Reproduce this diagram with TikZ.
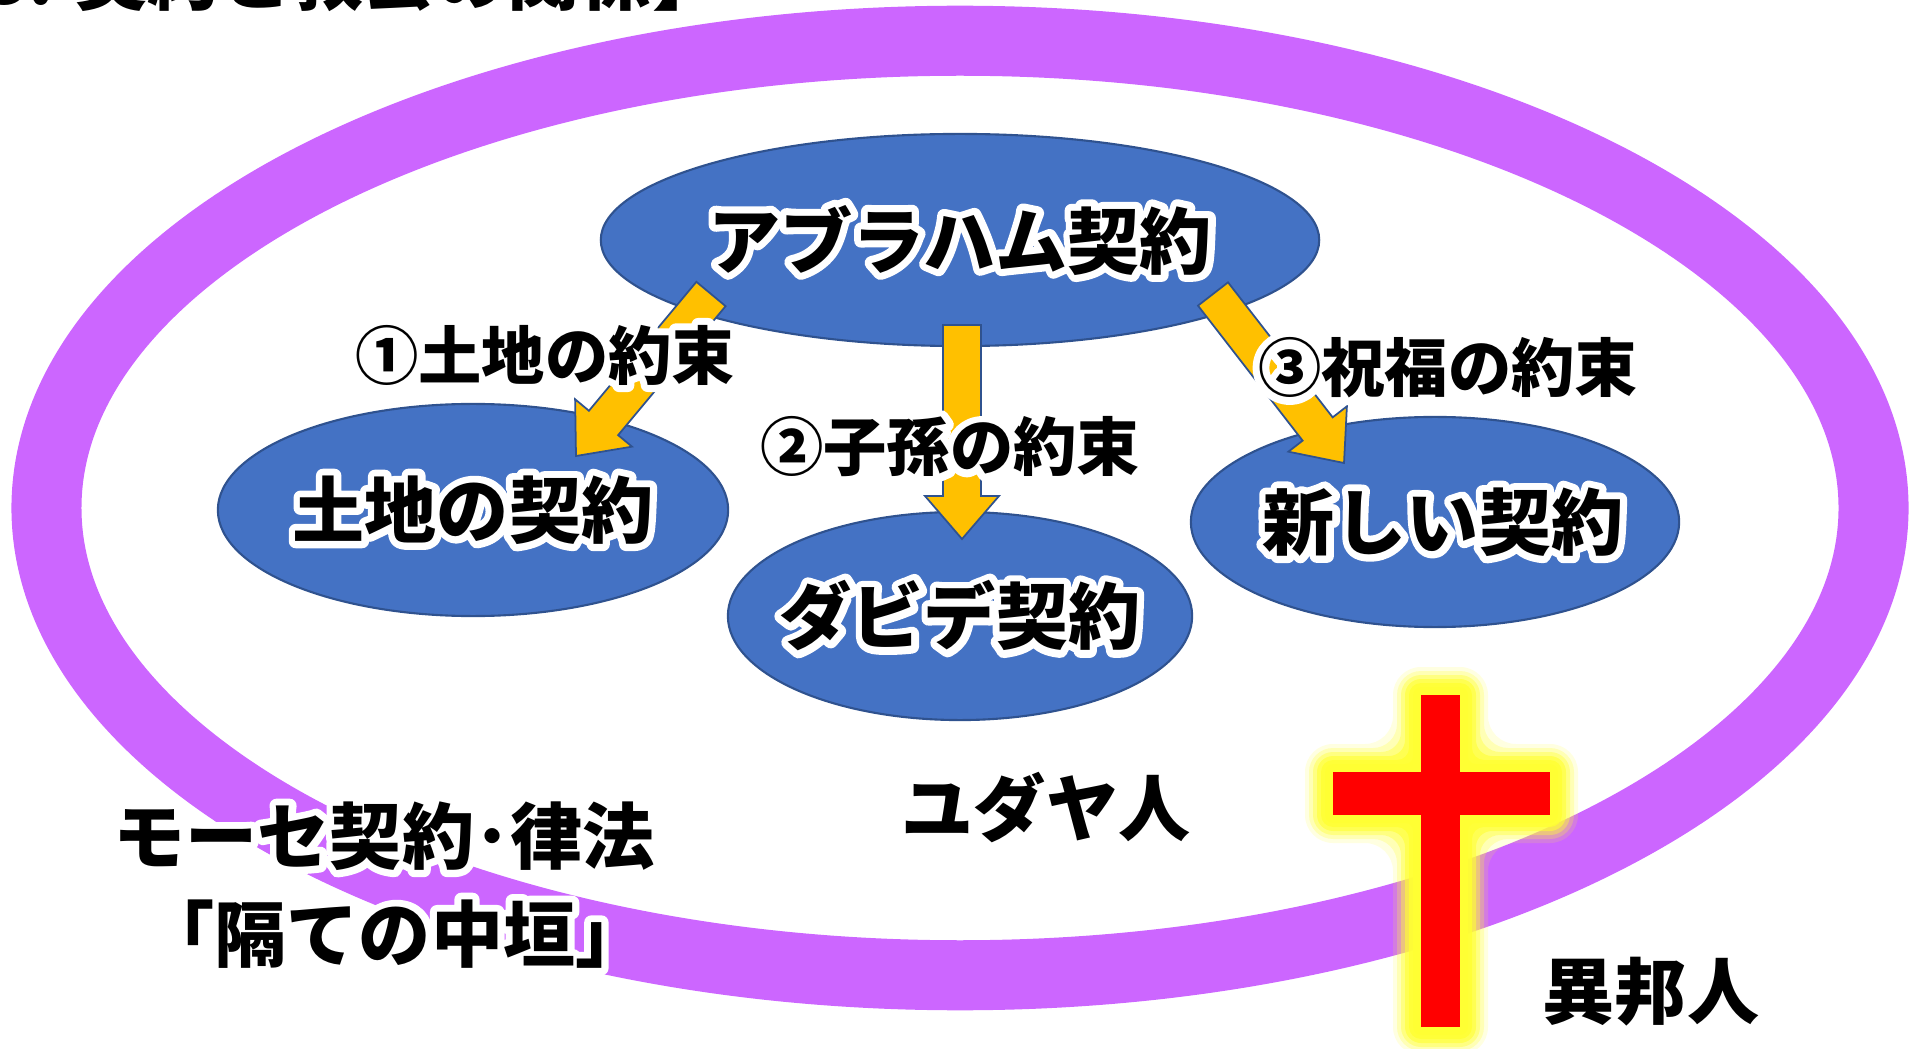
\documentclass[tikz,border=0pt]{standalone}
\usepackage{fontspec}
\newfontfamily\jp{Noto Sans CJK JP}
\usetikzlibrary{shapes.geometric,calc}
\definecolor{ringpurple}{HTML}{CC66FF}
\definecolor{ovalblue}{HTML}{4472C4}
\definecolor{ovalline}{HTML}{2F528F}
\definecolor{arrowgold}{HTML}{FFC000}
\definecolor{crossred}{HTML}{FF0000}
\definecolor{glowyellow}{HTML}{FFFF33}
% white halo: a white stroked copy of the text under the black text
\newcommand\glowtext[1]{\leavevmode\rlap{\special{pdf:literal direct 1 Tr 4 w 1 j}\textcolor{white}{#1}\special{pdf:literal direct 0 Tr}}#1}
\tikzset{
  oval/.style={ellipse, fill=ovalblue, draw=ovalline, line width=0.6pt, inner sep=0pt,
    font=\jp\bfseries\fontsize{20.5pt}{24pt}\selectfont},
  bigtext/.style={font=\jp\bfseries\fontsize{20.5pt}{24pt}\selectfont, inner sep=0pt},
  labeltext/.style={font=\jp\bfseries\fontsize{18pt}{22pt}\selectfont, inner sep=0pt},
  goldarrowstyle/.style={fill=arrowgold, draw=ovalline, line width=0.5pt, line join=miter}
}
% #1 tail coordinate, #2 tip coordinate
\newcommand\goldarrow[2]{%
  \draw[goldarrowstyle] let \p1=($(#2)-(#1)$), \n1={atan2(\y1,\x1)} in
    ($(#1)+(\n1+90:0.19cm)$)
    -- ($(#2)+(\n1+180:0.43cm)+(\n1+90:0.19cm)$)
    -- ($(#2)+(\n1+180:0.43cm)+(\n1+90:0.37cm)$)
    -- (#2)
    -- ($(#2)+(\n1+180:0.43cm)+(\n1-90:0.37cm)$)
    -- ($(#2)+(\n1+180:0.43cm)+(\n1-90:0.19cm)$)
    -- ($(#1)+(\n1-90:0.19cm)$) -- cycle;}
\begin{document}
\begin{tikzpicture}[x=0.01cm, y=-0.01cm]
\useasboundingbox (0,0) rectangle (1921,1049);
% outer ring (the law as dividing wall)
\draw[ringpurple, line width=0.7cm] (960,508) ellipse [x radius=9.13cm, y radius=4.67cm];
% cross glow
\foreach \d/\o/\r in {28/0.15/0.28cm, 24/0.25/0.24cm, 20/0.4/0.20cm, 16/0.6/0.16cm, 12/0.85/0.12cm, 8/1/0.08cm}{
  \fill[glowyellow, opacity=\o, rounded corners=\r]
    (1421-\d,695-\d) -- (1460+\d,695-\d) -- (1460+\d,772-\d) -- (1550+\d,772-\d)
    -- (1550+\d,815+\d) -- (1460+\d,815+\d) -- (1460+\d,1027+\d) -- (1421-\d,1027+\d)
    -- (1421-\d,815+\d) -- (1333-\d,815+\d) -- (1333-\d,772-\d) -- (1421-\d,772-\d) -- cycle;
}
% cross
\fill[crossred] (1421,695) rectangle (1460,1027);
\fill[crossred] (1333,772) rectangle (1550,815);
% covenant ovals
\node[oval, minimum width=7.18cm, minimum height=2.12cm] (abr) at (960,240) {\makebox[0pt]{\glowtext{アブラハム契約}}};
\node[oval, minimum width=5.10cm, minimum height=2.12cm] (land) at (473,510) {\makebox[0pt]{\glowtext{土地の契約}}};
\node[oval, minimum width=4.64cm, minimum height=2.08cm] (david) at (960,616) {\makebox[0pt]{\glowtext{ダビデ契約}}};
\node[oval, minimum width=4.88cm, minimum height=2.10cm] (newc) at (1435,522) {\makebox[0pt]{\hspace*{0.16cm}\glowtext{新しい契約}}};
% arrow ends
\coordinate (t1) at (711,294);
\coordinate (h1) at (576,456);
\coordinate (t2) at (962,325);
\coordinate (h2) at (962,539);
\coordinate (t3) at (1213,294);
\coordinate (h3) at (1344,463);
\goldarrow{t1}{h1}
\goldarrow{t2}{h2}
\goldarrow{t3}{h3}
% labels
\node[labeltext] (l1) at (545,355) {\glowtext{①土地の約束}};
\node[labeltext] (l2) at (950,447) {\glowtext{②子孫の約束}};
\node[labeltext] (l3) at (1448,368) {\glowtext{③祝福の約束}};
\node[bigtext] (moses) at (384,836) {\glowtext{モーセ契約･律法}};
\node[bigtext] (wall) at (395,934) {\glowtext{「隔ての中垣」}};
\node[bigtext] (jews) at (1046,808) {ユダヤ人};
\node[bigtext] (gent) at (1651,992) {異邦人};
\node[bigtext, anchor=base east] (title) at (725,5) {【3. 契約と教会の関係】};
\end{tikzpicture}
\end{document}
